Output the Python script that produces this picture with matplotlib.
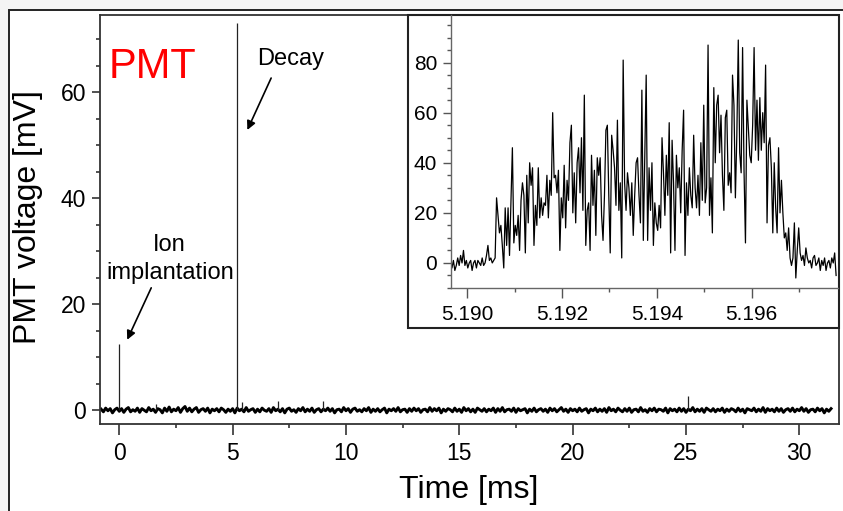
import numpy as np
import matplotlib
matplotlib.use('Agg')
import matplotlib.pyplot as plt
from matplotlib.patches import Rectangle
from matplotlib.ticker import MultipleLocator, FixedLocator, FormatStrFormatter

# main trace: baseline noise [mV], one sample every 0.1 ms starting at -0.8 ms
main_t0 = -0.8
main_dt = 0.1
noise = [
    0.2, -0.3, 0.4, -0.1, 0.3, -0.5, 0.1, 0.4, -0.2, 0.3, -0.4, 0.2, 0.5, -0.3, 0.1, -0.2, 0.4, -0.4, 0.3, 0.0,
    -0.3, 0.5, -0.1, 0.2, -0.4, 0.3, 0.1, -0.5, 0.4, -0.2, 0.6, -0.3, 0.2, -0.1, 0.5, -0.4, 0.3, 0.7, -0.2, 0.4,
    -0.3, 0.2, 0.5, -0.4, 0.1, 0.3, -0.2, 0.4, -0.5, 0.2, -0.1, 0.3, -0.3, 0.4, 0.1, -0.4, 0.2, -0.2, 0.3, -0.5,
    0.4, -0.1, 0.2, -0.3, 0.5, -0.2, 0.1, 0.3, -0.4, 0.2, -0.3, 0.4, 0.0, -0.2, 0.3, -0.4, 0.5, -0.1, 0.2, -0.3,
    0.3, -0.5, 0.2, 0.4, -0.2, 0.1, -0.4, 0.3, -0.1, 0.5, -0.3, 0.2, -0.2, 0.4, -0.4, 0.1, 0.3, -0.3, 0.2, -0.1,
    0.4, -0.2, 0.3, -0.5, 0.1, 0.2, -0.3, 0.5, -0.1, 0.3, -0.4, 0.2, 0.4, -0.2, 0.1, -0.3, 0.3, -0.1, 0.5, -0.4,
    0.2, -0.2, 0.3, -0.3, 0.1, 0.4, -0.5, 0.2, -0.1, 0.3, -0.2, 0.5, -0.3, 0.1, 0.2, -0.4, 0.3, -0.2, 0.4, -0.1,
    0.3, -0.4, 0.1, 0.2, -0.3, 0.5, -0.2, 0.3, -0.1, 0.4, -0.5, 0.2, -0.2, 0.3, 0.1, -0.3, 0.4, -0.2, 0.2, -0.4,
    0.5, -0.1, 0.3, -0.3, 0.2, -0.4, 0.4, 0.1, -0.2, 0.3, -0.3, 0.2, -0.1, 0.4, -0.4, 0.3, -0.2, 0.5, -0.3, 0.1,
    0.2, -0.2, 0.4, -0.4, 0.3, -0.1, 0.1, 0.3, -0.5, 0.2, -0.2, 0.4, -0.3, 0.1, 0.3, -0.2, 0.2, -0.4, 0.4, -0.1,
    0.3, -0.3, 0.1, 0.5, -0.2, 0.2, -0.4, 0.3, -0.1, 0.2, -0.3, 0.4, -0.2, 0.1, 0.3, -0.5, 0.2, -0.1, 0.4, -0.3,
    0.2, -0.2, 0.3, -0.4, 0.5, -0.1, 0.2, -0.3, 0.4, 0.0, -0.3, 0.3, -0.2, 0.4, -0.4, 0.1, 0.2, -0.3, 0.5, -0.2,
    0.1, -0.4, 0.3, -0.1, 0.4, -0.3, 0.2, 0.1, -0.2, 0.4, -0.5, 0.3, -0.1, 0.2, -0.3, 0.4, -0.2, 0.3, -0.4, 0.2,
    -0.1, 0.5, -0.3, 0.2, -0.2, 0.3, -0.4, 0.4, 0.1, -0.2, 0.3, -0.3, 0.2, -0.1, 0.4, -0.4, 0.2, -0.2, 0.3, 0.1,
    -0.3, 0.4, -0.2, 0.2, -0.5, 0.3, 0.1, -0.1, 0.4, -0.3, 0.2, -0.2, 0.5, -0.4, 0.3, -0.1, 0.2, -0.3, 0.4, -0.2,
    0.3, -0.4, 0.1, 0.3, -0.2, 0.4, -0.3, 0.2, -0.1, 0.5, -0.2, 0.3, -0.4, 0.1, 0.2, -0.3, 0.4, -0.1, 0.3, -0.5,
    0.2, -0.2, 0.3,
]
# single-sample spikes on top of the baseline
spike_t = [0.0, 1.6, 5.2, 5.4, 7.0, 9.0, 25.1]
spike_v = [12.5, 1.2, 73.0, 1.5, 1.7, 1.8, 2.6]

# inset: zoom on the decay signal, 5.18965 .. 5.19778 ms
inset_start = 5.18965
inset_end = 5.19778
inset_v = [
    0, -2, 1, -3, -1, 2, -1, 3, 0, 5, -1, 1,
    -2, 0, 1, -3, 0, 1, -2, 1, 0, -1, 2, -1, 0, 3, 7, 1, 2, 0, 1, 2,
    26, 19, 12, 15, 7, -2, 22, 7, 22, 3, 24, 46, 8,
    15, 11, 19, 5, 25, 32, 27, 4, 35, 16, 40, 31, 38, 7, 23, 15, 38, 18, 26, 19,
    24, 23, 35, 18, 33, 27, 60, 34, 35, 28, 37, 5, 26,
    18, 39, 14, 33, 25, 48, 55, 20, 36, 16, 40, 46, 28, 50, 21, 67, 7, 21, 24, 5,
    43, 23, 37, 11, 42, 35, 42, 19, 9, 27, 53, 55, 27,
    4, 51, 45, 38, 23, 57, 21, 32, 2, 81, 32, 21, 36, 30, 19, 32, 11, 27, 40, 42,
    27, 16, 69, 9, 42, 75, 9, 38, 21, 40, 7, 24, 16,
    13, 23, 14, 50, 36, 19, 43, 27, 56, 4, 49, 32, 5, 43, 30, 38, 20, 45, 61, 3,
    32, 19, 38, 27, 22, 51, 30, 22, 35, 19, 48, 25, 63,
    24, 30, 87, 19, 34, 12, 70, 40, 63, 67, 44, 59, 35, 21, 58, 61, 31, 36, 28, 75,
    63, 26, 51, 89, 44, 36, 86, 37, 8, 65, 54, 43, 40,
    55, 86, 45, 65, 41, 66, 45, 60, 48, 79, 16, 47, 50, 38, 12, 40, 22, 12, 46, 20,
    33, 20, 10, 12, 5, 14, 2, -1, 2, 16, -6, 5, 14,
    4, 1, 3, -1, 6, 2, 0, 1, -2, 2, 3, -1, 0, 2, -3, 1, -1, 2, -3, 0, 1, -2, 2, 0, 4, -5,
]

main_t = main_t0 + main_dt * np.arange(len(noise))
inset_t = np.linspace(inset_start, inset_end, len(inset_v))

plt.rcParams['font.family'] = ['Liberation Sans', 'DejaVu Sans']
W, H = 843, 511
fig = plt.figure(figsize=(W / 100, H / 100), dpi=100, facecolor='#f4f4f4')

# white panel with dark frame (left and top edges visible)
fig.add_artist(Rectangle((9 / W, -0.1), 1.2, (H - 10) / H + 0.1, transform=fig.transFigure,
                         facecolor='white', edgecolor='#222222', linewidth=1.4, zorder=-5))

ax = fig.add_axes([100 / W, (H - 424) / H, 739 / W, 409 / H])
ax.plot(main_t, noise, color='black', lw=2.1)
ax.vlines(spike_t, 0, spike_v, color='#222222', lw=0.9)
ax.set_xlim(-0.85, 31.75)
ax.set_ylim(-2.6, 74.6)
ax.xaxis.set_major_locator(MultipleLocator(5))
ax.xaxis.set_minor_locator(MultipleLocator(2.5))
ax.yaxis.set_major_locator(MultipleLocator(20))
ax.yaxis.set_minor_locator(MultipleLocator(5))
ax.tick_params(which='both', direction='out', labelsize=16.5, width=1.2, color='#333333')
ax.tick_params(axis='x', which='major', length=8, pad=5)
ax.tick_params(axis='y', which='major', length=6, pad=4)
ax.tick_params(which='minor', length=3)
for s in ax.spines.values():
    s.set_linewidth(1.3)
    s.set_color('#333333')
ax.set_xlabel('Time [ms]', fontsize=23)
ax.set_ylabel('PMT voltage [mV]', fontsize=23)
ax.xaxis.set_label_coords(0.499, -0.125)
ax.yaxis.set_label_coords(-0.077, 0.506)

ax.text(-0.49, 62.7, 'PMT', color='red', fontsize=30, ha='left', va='baseline')
ax.text(7.54, 65.2, 'Decay', fontsize=17, ha='center', va='baseline')
ax.text(2.2, 30.1, 'Ion', fontsize=17, ha='center', va='baseline')
ax.text(2.25, 24.7, 'implantation', fontsize=17, ha='center', va='baseline')
arrow = dict(arrowstyle='-|>', color='black', lw=1.2, mutation_scale=13, shrinkA=0, shrinkB=0)
ax.annotate('', xy=(5.65, 52.9), xytext=(6.70, 62.7), arrowprops=arrow)
ax.annotate('', xy=(0.35, 13.3), xytext=(1.41, 23.1), arrowprops=arrow)

# inset frame
fig.add_artist(Rectangle((408 / W, (H - 328) / H), (839 - 408) / W, (328 - 15) / H,
                         transform=fig.transFigure, facecolor='white', edgecolor='#222222',
                         linewidth=1.5, zorder=1))

ins = fig.add_axes([451 / W, (H - 288) / H, 387 / W, 273 / H])
ins.set_zorder(2)
ins.patch.set_alpha(0)
ins.plot(inset_t, inset_v, color='black', lw=0.9)
ins.set_xlim(5.18966, 5.19782)
ins.set_ylim(-10, 99)
ins.xaxis.set_major_locator(MultipleLocator(0.002))
ins.xaxis.set_minor_locator(MultipleLocator(0.001))
ins.xaxis.set_major_formatter(FormatStrFormatter('%.3f'))
ins.yaxis.set_major_locator(FixedLocator([0, 20, 40, 60, 80]))
ins.yaxis.set_minor_locator(MultipleLocator(5))
ins.spines['top'].set_visible(False)
ins.spines['right'].set_visible(False)
for s in ('left', 'bottom'):
    ins.spines[s].set_color('#666666')
    ins.spines[s].set_linewidth(1.0)
ins.tick_params(which='both', direction='out', labelsize=15, color='#555555', width=1.0)
ins.tick_params(axis='x', which='major', length=7, pad=5)
ins.tick_params(axis='y', which='major', length=6, pad=4)
ins.tick_params(which='minor', length=3)

fig.savefig('out.png', dpi=100, facecolor=fig.get_facecolor())
